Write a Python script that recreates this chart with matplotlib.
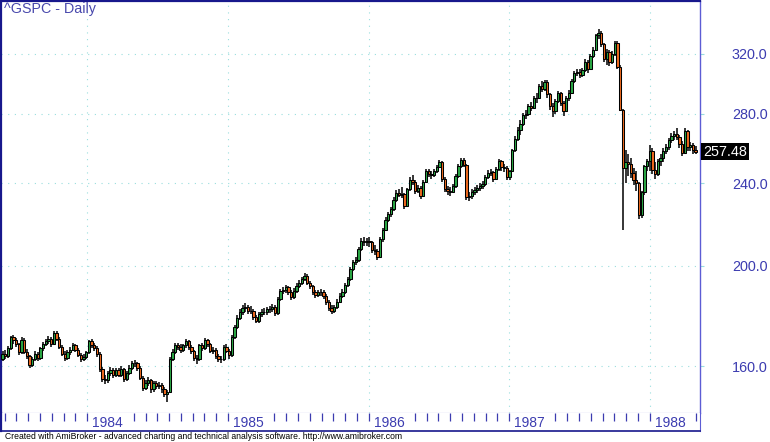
import matplotlib
matplotlib.use('Agg')
from matplotlib import pyplot as plt
from matplotlib import transforms
import matplotlib.dates as mdates
import matplotlib.ticker as mticker
import pandas as pd
import numpy as np

plt.rcParams['font.family'] = ['Liberation Sans', 'DejaVu Sans']

first_week = '1983-05-27'

opens = [
    # 1983
    162.5, 164.5, 163.5, 166.5, 170.5, 169.5, 168.0, 165.0, 169.5, 165.0, 163.5, 160.5, 162.5, 164.5, 162.8, 166.5,
    168.0, 169.0, 170.0, 168.0, 172.3, 170.0, 167.0, 164.5, 163.0, 165.0, 166.0, 167.5, 166.0, 164.0, 162.5, 163.3,
    # 1984
    165.0, 169.0, 167.5, 166.5, 164.5, 159.0, 155.5, 155.0, 157.5, 158.5, 157.0, 158.5, 157.0, 159.0, 155.5, 157.5,
    159.5, 161.0, 161.0, 159.5, 156.0, 152.5, 154.0, 155.0, 152.0, 154.0, 153.0, 153.5, 152.0, 150.5, 151.0, 162.5,
    165.0, 167.5, 167.0, 166.0, 167.5, 169.0, 167.0, 165.5, 163.0, 162.5, 167.5, 166.5, 169.5, 168.0, 165.5, 166.0,
    163.5, 162.5, 162.5, 167.0,
    # 1985
    165.5, 164.0, 170.5, 174.5, 178.0, 180.5, 182.0, 182.5, 181.0, 181.0, 178.5, 177.0, 179.5, 180.5, 180.5, 181.5,
    181.5, 182.5, 180.0, 185.5, 189.0, 189.5, 190.5, 188.5, 186.5, 189.0, 191.0, 192.5, 194.0, 195.5, 192.5, 191.0,
    188.5, 187.5, 188.5, 188.5, 187.0, 184.5, 182.0, 181.0, 182.5, 184.5, 187.0, 188.5, 191.5, 194.0, 198.5, 201.5,
    202.5, 207.5, 211.0, 210.5,
    # 1986
    211.0, 210.5, 207.0, 206.5, 204.0, 212.0, 216.5, 221.5, 224.0, 226.5, 231.5, 235.0, 234.0, 234.5, 228.5, 237.0,
    242.0, 241.0, 236.0, 237.5, 233.5, 241.0, 246.5, 245.0, 244.5, 246.5, 249.0, 251.5, 242.5, 237.0, 236.0, 235.5,
    238.5, 244.0, 249.5, 252.5, 250.0, 233.0, 233.5, 235.5, 236.5, 237.5, 238.5, 239.5, 243.5, 245.5, 246.0, 242.5,
    248.0, 252.0, 249.0, 248.5,
    # 1987
    243.5, 246.5, 258.5, 265.0, 270.0, 274.0, 279.5, 280.0, 285.0, 284.0, 290.0, 290.0, 298.0, 296.0, 300.5, 292.5,
    285.0, 281.5, 288.0, 293.0, 287.0, 282.0, 290.0, 293.5, 301.5, 306.5, 307.5, 305.5, 308.5, 314.5, 309.5, 318.5,
    323.0, 333.5, 335.0, 327.0, 316.5, 321.5, 314.5, 320.0, 328.0, 311.0, 282.7, 248.2, 251.8, 250.4, 245.6, 242.0,
    240.3, 223.9, 235.3, 249.2,
    # 1988
    252.0, 258.0, 247.0, 245.0, 252.0, 254.0, 258.0, 260.0, 264.0, 266.5, 267.5, 266.0, 262.0, 257.0, 269.5, 260.0,
    261.5, 258.5,
]

highs = [
    165.6, 166.0, 167.4, 171.2, 171.6, 170.4, 168.6, 170.6, 170.2, 166.1, 164.0, 163.4, 165.3, 165.2, 167.1, 168.9,
    170.1, 170.9, 170.6, 172.8, 173.1, 170.5, 167.6, 165.3, 166.0, 167.0, 168.4, 168.2, 166.7, 164.8, 164.3, 165.6,
    169.6, 169.8, 168.3, 167.2, 165.0, 159.8, 156.8, 158.4, 159.6, 159.2, 159.3, 159.4, 159.9, 159.5, 158.3, 160.3,
    162.0, 162.2, 161.6, 160.1, 156.6, 155.0, 156.1, 155.6, 154.9, 154.8, 154.6, 154.1, 152.6, 151.9, 163.2, 166.1,
    168.3, 168.6, 167.9, 168.2, 169.8, 169.5, 167.7, 166.0, 163.9, 168.1, 168.4, 170.4, 170.1, 168.5, 167.0, 166.6,
    164.2, 163.6, 167.8, 167.9,
    166.2, 171.3, 175.4, 179.1, 181.6, 183.2, 183.9, 183.4, 182.9, 181.7, 179.3, 180.4, 181.7, 181.9, 182.6, 182.8,
    183.6, 183.1, 186.4, 189.9, 190.8, 191.6, 191.2, 189.3, 190.1, 192.2, 193.6, 195.1, 196.6, 196.2, 193.4, 191.7,
    189.6, 189.5, 189.9, 189.3, 187.8, 185.2, 183.1, 183.4, 185.6, 188.1, 189.7, 192.4, 195.1, 199.3, 202.6, 203.8,
    208.3, 212.4, 213.2, 212.6,
    213.0, 211.4, 209.2, 207.3, 212.9, 217.6, 222.6, 225.3, 227.9, 232.7, 236.4, 237.2, 237.9, 235.1, 237.8, 243.6,
    244.4, 241.8, 239.0, 238.4, 241.9, 247.6, 247.9, 246.6, 247.7, 250.2, 253.0, 252.3, 243.4, 238.8, 237.9, 239.6,
    245.0, 250.4, 254.1, 254.0, 250.8, 235.7, 236.8, 238.0, 239.2, 240.4, 241.3, 244.6, 247.0, 247.8, 246.9, 249.1,
    253.6, 252.9, 250.6, 249.4,
    247.4, 259.3, 266.4, 271.8, 276.2, 280.8, 282.4, 286.3, 287.6, 291.4, 293.2, 299.3, 301.2, 302.0, 301.8, 293.6,
    286.9, 289.4, 294.7, 294.0, 288.2, 291.2, 295.1, 302.8, 307.9, 309.6, 309.1, 310.2, 316.0, 315.3, 319.6, 324.8,
    334.6, 337.9, 336.3, 327.8, 323.6, 322.4, 321.7, 329.4, 328.9, 311.8, 283.0, 258.4, 256.2, 254.0, 248.3, 246.7,
    241.0, 236.2, 250.1, 253.6,
    261.5, 259.4, 251.5, 253.6, 256.4, 259.8, 262.2, 265.3, 268.2, 269.3, 271.1, 267.4, 263.5, 271.6, 270.4, 263.2,
    262.4, 260.6,
]

lows = [
    161.8, 162.4, 162.9, 165.8, 168.2, 166.9, 163.9, 164.5, 164.2, 162.4, 159.2, 159.8, 161.7, 161.9, 162.3, 165.6,
    167.2, 167.9, 167.1, 167.6, 169.0, 166.1, 163.6, 161.7, 162.2, 164.1, 165.3, 165.0, 163.1, 161.4, 161.9, 162.6,
    164.5, 166.6, 165.4, 163.3, 158.1, 154.3, 153.9, 154.2, 156.5, 155.8, 156.2, 156.1, 156.3, 154.6, 154.8, 156.9,
    158.8, 159.6, 158.4, 155.1, 151.4, 151.8, 153.0, 150.8, 151.2, 152.0, 152.2, 150.9, 149.4, 147.8, 150.6, 161.8,
    164.2, 165.9, 164.8, 165.1, 166.6, 166.0, 164.4, 161.9, 160.9, 162.0, 165.3, 165.9, 166.9, 164.6, 164.3, 162.4,
    161.3, 161.0, 162.0, 164.6,
    162.5, 163.4, 169.8, 173.6, 177.1, 179.4, 180.6, 179.8, 179.5, 177.3, 175.9, 176.2, 178.6, 179.2, 179.4, 180.1,
    180.4, 178.9, 179.4, 184.8, 187.9, 188.3, 187.2, 185.4, 185.7, 188.1, 190.2, 191.6, 193.1, 191.4, 189.8, 187.4,
    186.2, 186.6, 187.1, 185.8, 183.4, 181.0, 179.6, 180.2, 181.7, 183.9, 186.1, 187.8, 190.7, 193.4, 197.7, 200.1,
    201.8, 206.6, 208.8, 208.9,
    208.6, 205.8, 204.9, 202.6, 203.4, 210.8, 215.7, 220.2, 222.8, 225.6, 230.2, 232.6, 232.4, 226.9, 227.6, 236.1,
    239.3, 234.6, 234.9, 231.8, 232.9, 240.2, 243.6, 242.5, 243.2, 245.4, 248.3, 241.0, 235.6, 233.9, 233.6, 234.7,
    237.8, 243.1, 248.6, 248.7, 231.5, 230.6, 231.9, 233.8, 234.9, 236.0, 236.8, 238.7, 242.4, 243.7, 240.8, 241.6,
    246.9, 246.8, 246.2, 242.0,
    241.8, 245.9, 257.2, 263.4, 267.3, 272.6, 276.8, 278.4, 281.9, 282.8, 287.1, 289.2, 294.0, 294.6, 290.3, 282.7,
    278.3, 280.2, 286.6, 284.9, 278.6, 281.1, 288.4, 292.7, 300.2, 304.3, 303.2, 303.8, 307.4, 306.9, 308.6, 316.9,
    322.1, 330.4, 324.6, 314.2, 312.4, 311.6, 312.9, 318.6, 309.2, 281.6, 216.5, 240.3, 244.1, 242.8, 239.4, 235.9,
    221.6, 222.5, 233.9, 246.8,
    246.5, 244.8, 242.6, 243.7, 249.6, 251.9, 255.9, 258.6, 262.4, 264.1, 264.3, 259.8, 255.2, 256.1, 257.9, 257.6,
    256.3, 256.0,
]

closes = [
    164.5, 163.5, 166.5, 170.5, 169.5, 168.0, 165.0, 169.5, 165.0, 163.5, 160.5, 162.5, 164.5, 162.8, 166.5, 168.0,
    169.0, 170.0, 168.0, 172.3, 170.0, 167.0, 164.5, 163.0, 165.0, 166.0, 167.5, 166.0, 164.0, 162.5, 163.3, 165.0,
    169.0, 167.5, 166.5, 164.5, 159.0, 155.5, 155.0, 157.5, 158.5, 157.0, 158.5, 157.0, 159.0, 155.5, 157.5, 159.5,
    161.0, 161.0, 159.5, 156.0, 152.5, 154.0, 155.0, 152.0, 154.0, 153.0, 153.5, 152.0, 150.5, 151.0, 162.5, 165.0,
    167.5, 167.0, 166.0, 167.5, 169.0, 167.0, 165.5, 163.0, 162.5, 167.5, 166.5, 169.5, 168.0, 165.5, 166.0, 163.5,
    162.5, 162.5, 167.0, 165.5,
    164.0, 170.5, 174.5, 178.0, 180.5, 182.0, 182.5, 181.0, 181.0, 178.5, 177.0, 179.5, 180.5, 180.5, 181.5, 181.5,
    182.5, 180.0, 185.5, 189.0, 189.5, 190.5, 188.5, 186.5, 189.0, 191.0, 192.5, 194.0, 195.5, 192.5, 191.0, 188.5,
    187.5, 188.5, 188.5, 187.0, 184.5, 182.0, 181.0, 182.5, 184.5, 187.0, 188.5, 191.5, 194.0, 198.5, 201.5, 202.5,
    207.5, 211.0, 210.5, 211.0,
    210.5, 207.0, 206.5, 204.0, 212.0, 216.5, 221.5, 224.0, 226.5, 231.5, 235.0, 234.0, 234.5, 228.5, 237.0, 242.0,
    241.0, 236.0, 237.5, 233.5, 241.0, 246.5, 245.0, 244.5, 246.5, 249.0, 251.5, 242.5, 237.0, 236.0, 235.5, 238.5,
    244.0, 249.5, 252.5, 250.0, 233.0, 233.5, 235.5, 236.5, 237.5, 238.5, 239.5, 243.5, 245.5, 246.0, 242.5, 248.0,
    252.0, 249.0, 248.5, 243.5,
    246.5, 258.5, 265.0, 270.0, 274.0, 279.5, 280.0, 285.0, 284.0, 290.0, 290.0, 298.0, 296.0, 300.5, 292.5, 285.0,
    281.5, 288.0, 293.0, 287.0, 282.0, 290.0, 293.5, 301.5, 306.5, 307.5, 305.5, 308.5, 314.5, 309.5, 318.5, 323.0,
    333.5, 335.0, 327.0, 316.5, 321.5, 314.5, 320.0, 328.0, 311.0, 282.7, 248.2, 251.8, 250.4, 245.6, 242.0, 240.3,
    223.9, 235.3, 249.2, 252.0,
    258.0, 247.0, 245.0, 252.0, 254.0, 258.0, 260.0, 264.0, 266.5, 267.5, 266.0, 262.0, 257.0, 269.5, 260.0, 261.5,
    258.5, 257.48,
]

price_levels = [160, 200, 240, 280, 320]
price_labels = ['160.0', '200.0', '240.0', '280.0', '320.0']
years = ['1984', '1985', '1986', '1987', '1988']
last_label = '257.48'
title = '^GSPC - Daily'
footer = ('Created with AmiBroker - advanced charting and technical analysis software. '
          'http://www.amibroker.com')

NAVY = '#18188c'
BLUE = '#3c3cb0'
AXBLUE = '#5c5cd4'
GRID = '#9adede'
UP = '#2aa845'
DOWN = '#ee6a1e'

W, H = 770, 442
fig = plt.figure(figsize=(W / 100, H / 100), dpi=100)


def px_box(x0, y0, x1, y1):
    return [x0 / W, 1 - y1 / H, (x1 - x0) / W, (y1 - y0) / H]


ax = fig.add_axes(px_box(1, 1, 700, 413))
strip = fig.add_axes(px_box(1, 413, 700, 431))

# date scale: 1 Jan 1984 sits at x=87px, 140.7 px per year
jan84 = mdates.date2num(pd.Timestamp('1984-01-01'))
px_day = 140.7 / 365.25
xlim = (jan84 - 86 / px_day, jan84 + 613 / px_day)

d = mdates.date2num(pd.date_range(first_week, periods=len(closes), freq='7D'))
o = np.array(opens)
c = np.array(closes)
colors = np.where(c >= o, UP, DOWN)

ax.vlines(d, lows, highs, color='black', lw=1.1, zorder=3)
ax.bar(d, c - o, bottom=o, width=6.0, color=colors, edgecolor='black', linewidth=0.75, zorder=4)

ax.set_yscale('log')
ax.set_ylim(144.2, 359.7)
ax.set_xlim(*xlim)

for lv in price_levels:
    ax.axhline(lv, color=GRID, lw=0.8, dashes=(1, 5), zorder=1)
for y in years:
    ax.axvline(mdates.date2num(pd.Timestamp(y + '-01-01')), color=GRID, lw=0.8, dashes=(1, 5), zorder=1)

ax.yaxis.tick_right()
ax.set_yticks(price_levels)
ax.set_yticklabels(price_labels)
ax.yaxis.set_minor_locator(mticker.NullLocator())
ax.tick_params(axis='y', length=3, width=0.8, color=GRID, pad=20, labelsize=10.4, labelcolor=BLUE)
ax.tick_params(axis='x', bottom=False, labelbottom=False)

ax.spines['left'].set_color(NAVY)
ax.spines['left'].set_linewidth(1.6)
ax.spines['top'].set_color(NAVY)
ax.spines['top'].set_linewidth(1.6)
ax.spines['right'].set_color(AXBLUE)
ax.spines['right'].set_linewidth(1.0)
ax.spines['bottom'].set_color(AXBLUE)
ax.spines['bottom'].set_linewidth(0.8)

# last close marker
tr = transforms.blended_transform_factory(ax.transAxes, ax.transData)
ax.text(1.0 + 3 / 699, closes[-1], last_label, transform=tr, ha='left', va='center', color='white',
        fontsize=10.4, clip_on=False, zorder=6,
        bbox=dict(boxstyle='square,pad=0.12', fc='black', ec='none'))

# month ticks + year labels
strip.set_xlim(*xlim)
strip.set_ylim(0, 1)
strip.set_xticks([])
strip.set_yticks([])
strip.spines['top'].set_visible(False)
strip.spines['left'].set_color(NAVY)
strip.spines['left'].set_linewidth(1.6)
strip.spines['bottom'].set_color(NAVY)
strip.spines['bottom'].set_linewidth(1.2)
strip.spines['right'].set_color(AXBLUE)

for m in pd.date_range('1983-06-01', '1988-05-01', freq='MS'):
    if m.month in (2, 3, 4):
        continue
    strip.vlines(mdates.date2num(m), 0.55, 1.0, color=BLUE, lw=0.9)
for y in years:
    strip.text(mdates.date2num(pd.Timestamp(y + '-01-01')) + 5 / px_day, 0.45, y,
               ha='left', va='center', color=BLUE, fontsize=10)

fig.text(4 / W, 1 - 2 / H, title, ha='left', va='top', fontsize=10.3, color='#4848ac')
fig.text(5 / W, 1 - 436.5 / H, footer, ha='left', va='center', fontsize=6.2, color='black')

plt.savefig('out.png', dpi=100, facecolor='white')
